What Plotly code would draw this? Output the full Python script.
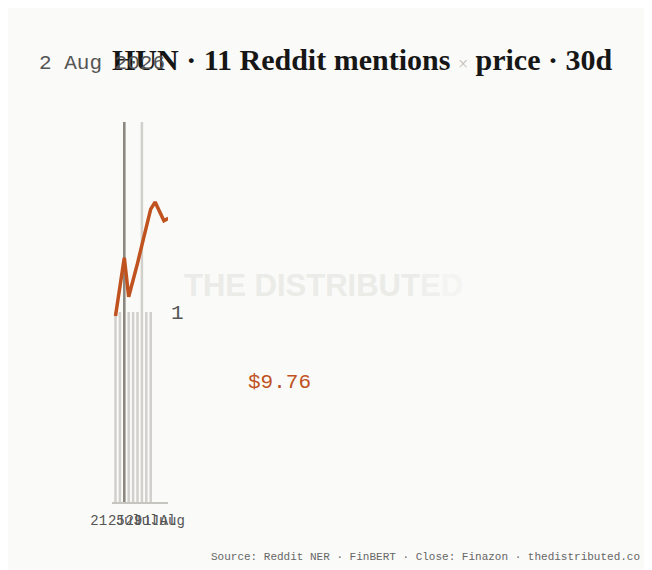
import plotly.graph_objects as go

# mentions per day (bars) and close price (line)
mention_dates = ["2026-07-21", "2026-07-22", "2026-07-23", "2026-07-24", "2026-07-25",
                 "2026-07-26", "2026-07-27", "2026-07-28", "2026-07-29"]
mention_counts = [1, 1, 2, 1, 1, 1, 2, 1, 1]
highlight_date = "2026-07-23"

price_dates = ["2026-07-21", "2026-07-22", "2026-07-23", "2026-07-24", "2026-07-25",
               "2026-07-26", "2026-07-27", "2026-07-28", "2026-07-29", "2026-07-30",
               "2026-07-31", "2026-08-01", "2026-08-02"]
price_close = [9.567, 9.624, 9.682, 9.605, 9.635, 9.671, 9.707, 9.742, 9.778, 9.792,
               9.774, 9.755, 9.760]

tick_dates = ["2026-07-21", "2026-07-25", "2026-07-29", "2026-08-01"]
tick_text = ["21 Jul", "25 Jul", "29 Jul", "1 Aug"]

title_text = "HUN · 11 Reddit mentions <span style='font-size:18px;color:#bdbdb8;font-weight:normal'>×</span> price · 30d"
date_label = "2 Aug 2026"
last_price = "$9.76"
source_text = "Source: Reddit NER · FinBERT · Close: Finazon · thedistributed.co"

# the page body adds an 8px offset, so the figure is drawn 8px smaller
OFF = 8
W, H = 652 - OFF, 570 - OFF
L, R, T, B = 112 - OFF, 484, 122 - OFF, 68
ORANGE = "#c0521f"
MONO = "Liberation Mono"


def px(x, y):
    # screen pixel (reference coords) -> paper coords
    pw = W - L - R
    ph = H - T - B
    return (x - OFF - L) / pw, (H - B - (y - OFF)) / ph


bar_colors = ["#8b867f" if d == highlight_date else "#d1d0cc" for d in mention_dates]

fig = go.Figure()
fig.add_trace(go.Bar(x=mention_dates, y=mention_counts, marker_color=bar_colors,
                     marker_line_width=0, width=0.58 * 86400000, yaxis="y",
                     hoverinfo="skip"))
fig.add_trace(go.Scatter(x=price_dates, y=price_close, mode="lines", yaxis="y2",
                         line=dict(color=ORANGE, width=3.5), hoverinfo="skip"))

anns = []
x0, y0 = px(37, 63)
anns.append(dict(text=date_label, x=x0, y=y0, xanchor="left", yanchor="middle",
                 font=dict(family=MONO, size=21, color="#555555")))
x0, y0 = px(279.5, 382)
anns.append(dict(text=last_price, x=x0, y=y0, xanchor="center", yanchor="middle",
                 font=dict(family=MONO, size=21, color=ORANGE)))
x0, y0 = px(323, 285)
anns.append(dict(text="THE DISTRIBUT<span style='color:#efefed'>E</span><span style='color:#f4f4f2'>D</span>",
                 x=x0, y=y0, xanchor="center", yanchor="middle",
                 font=dict(family="Liberation Sans", size=31, color="#ebebe8", weight="bold")))
x0, y0 = px(642, 557)
anns.append(dict(text=source_text, x=x0, y=y0, xanchor="right", yanchor="middle",
                 font=dict(family=MONO, size=11, color="#666666")))
for a in anns:
    a.update(xref="paper", yref="paper", showarrow=False)

fig.update_layout(
    width=W, height=H,
    margin=dict(l=L, r=R, t=T, b=B, pad=0),
    paper_bgcolor="#fafaf8", plot_bgcolor="#fafaf8",
    showlegend=False,
    title=dict(text=title_text, x=0, xref="paper", xanchor="left",
               y=1 - (59 - OFF) / H, yref="container", yanchor="middle",
               font=dict(family="Liberation Serif", size=30, color="#161616", weight="bold")),
    xaxis=dict(type="date", range=["2026-07-20 04:55", "2026-08-01 22:20"],
               tickvals=tick_dates, ticktext=tick_text, tickangle=0,
               tickfont=dict(family=MONO, size=14, color="#555555"),
               ticklabelstandoff=4,
               showgrid=False, zeroline=False, showline=True, linecolor="#c6c6c1",
               linewidth=2, ticks=""),
    yaxis=dict(range=[0, 2], side="right", tickvals=[1], ticktext=["1"],
               tickfont=dict(family=MONO, size=21, color="#555555"),
               ticklabelstandoff=2,
               showgrid=False, zeroline=False, showline=False, ticks=""),
    yaxis2=dict(range=[9.2, 9.95], overlaying="y", visible=False),
    bargap=0.4,
    annotations=anns,
)

fig.write_html("out.html")
